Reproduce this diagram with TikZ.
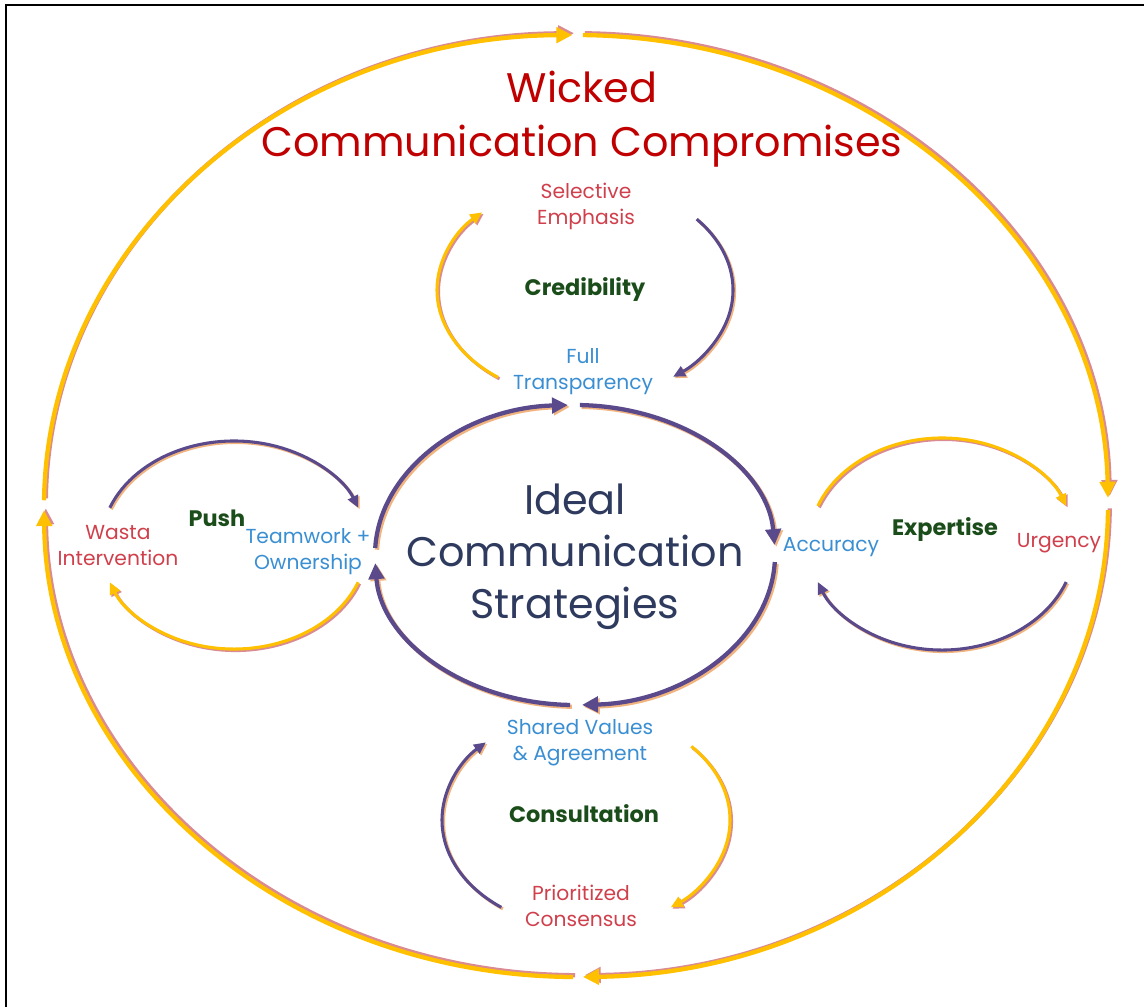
\documentclass[tikz,border=0pt]{standalone}
\usepackage{fontspec}
\setmainfont{Poppins}
\usetikzlibrary{arrows.meta}
\definecolor{ylw}{HTML}{FFC000}
\definecolor{pinksh}{HTML}{D98A92}
\definecolor{purp}{HTML}{5B4A8B}
\definecolor{orsh}{HTML}{F2B47E}
\definecolor{titlered}{HTML}{C00000}
\definecolor{lblred}{HTML}{D0404C}
\definecolor{lblblue}{HTML}{3A8FD3}
\definecolor{lblgreen}{HTML}{1B4D1B}
\definecolor{navy}{HTML}{2E3A5E}
\begin{document}
\begin{tikzpicture}[x=0.75pt,y=-0.75pt,
  bigtip/.style={-{Triangle[length=12pt,width=11.5pt]}},
  smalltip/.style={-{Triangle[length=9pt,width=8pt]}},
  outerarc/.style={draw=ylw, line width=3.2pt, bigtip,
    preaction={draw=pinksh, line width=3.2pt, bigtip, transform canvas={shift={(1.8,-1.8)}}}},
  innerarc/.style={draw=purp, line width=3.2pt, bigtip,
    preaction={draw=orsh, line width=3.2pt, bigtip, transform canvas={shift={(1.8,1.8)}}}},
  yarc/.style={draw=ylw, line width=2.3pt, smalltip,
    preaction={draw=pinksh, line width=2.3pt, smalltip, transform canvas={shift={(1.5,1.5)}}}},
  parc/.style={draw=purp, line width=2.3pt, smalltip,
    preaction={draw=orsh, line width=2.3pt, smalltip, transform canvas={shift={(1.5,1.5)}}}},
  lbl/.style={align=center, inner sep=0pt, font=\fontsize{15.2}{19.5}\selectfont},
  redlbl/.style={lbl, text=lblred},
  bluelbl/.style={lbl, text=lblblue},
  greenlbl/.style={align=center, inner sep=0pt, text=lblgreen, font=\fontsize{16.8}{20}\selectfont\bfseries},
  bigtext/.style={align=center, inner sep=0pt, font=\fontsize{31}{39}\selectfont}
]
\useasboundingbox (0,0) rectangle (1144,1007);
\fill[white] (0,0) rectangle (1144,1007);
% frame
\draw[line width=2pt] (6,1007) -- (6,5) -- (1144,5);

% centers
\coordinate (co) at (576,506);
\coordinate (ci) at (575,555);
\coordinate (ccred) at (585,290);
\coordinate (cpush) at (234,545);
\coordinate (cexp) at (942,544);
\coordinate (ccons) at (586,820);

% outer ellipse (clockwise)
\draw[outerarc] (co) ++(180.7:532 and 471) arc[start angle=180.7, end angle=269.6, x radius=532, y radius=471];
\draw[outerarc] (co) ++(270.75:532 and 471) arc[start angle=270.75, end angle=359.0, x radius=532, y radius=471];
\draw[outerarc] (co) ++(0.5:532 and 471) arc[start angle=0.5, end angle=89.25, x radius=532, y radius=471];
\draw[outerarc] (co) ++(90.3:532 and 471) arc[start angle=90.3, end angle=179.5, x radius=532, y radius=471];

% inner ellipse
\draw[innerarc] (ci) ++(182.7:200 and 150) arc[start angle=182.7, end angle=268, x radius=200, y radius=150];
\draw[innerarc] (ci) ++(271.4:200 and 150) arc[start angle=271.4, end angle=356.2, x radius=200, y radius=150];
\draw[innerarc] (ci) ++(2.7:200 and 150) arc[start angle=2.7, end angle=88, x radius=200, y radius=150];
\draw[innerarc] (ci) ++(91.4:200 and 150) arc[start angle=91.4, end angle=176.9, x radius=200, y radius=150];

% Credibility cycle
\draw[yarc] (ccred) ++(126:148 and 108) arc[start angle=126, end angle=226, x radius=148, y radius=108];
\draw[parc] (ccred) ++(319:148 and 108) arc[start angle=319, end angle=413.5, x radius=148, y radius=108];

% Push cycle
\draw[parc] (cpush) ++(201:133 and 104) arc[start angle=201, end angle=339, x radius=133, y radius=104];
\draw[yarc] (cpush) ++(21:133 and 104) arc[start angle=21, end angle=159, x radius=133, y radius=104];

% Expertise cycle
\draw[yarc] (cexp) ++(201:133 and 106) arc[start angle=201, end angle=339, x radius=133, y radius=106];
\draw[parc] (cexp) ++(21:133 and 106) arc[start angle=21, end angle=159, x radius=133, y radius=106];

% Consultation cycle
\draw[parc] (ccons) ++(126:144 and 108) arc[start angle=126, end angle=226, x radius=144, y radius=108];
\draw[yarc] (ccons) ++(317:144 and 108) arc[start angle=317, end angle=414, x radius=144, y radius=108];

% texts
\node[align=center, inner sep=0pt, text=titlered, font=\fontsize{31}{40.5}\selectfont] (title) at (582,119) {Wicked\\Communication Compromises};
\node[bigtext, text=navy] (ideal) at (575,557) {Ideal\\Communication\\Strategies};

\node[redlbl] (selective) at (586,206) {Selective\\Emphasis};
\node[greenlbl] (cred) at (585,289) {Credibility};
\node[bluelbl] (full) at (583,372) {Full\\Transparency};

\node[redlbl] (wasta) at (118,546) {Wasta\\Intervention};
\node[greenlbl] (push) at (217,518) {Push};
\node[bluelbl] (team) at (308,552) {Teamwork +\\Ownership};

\node[bluelbl] (accuracy) at (831,547) {Accuracy};
\node[greenlbl] (expertise) at (945,529) {Expertise};
\node[redlbl] (urgency) at (1059,543) {Urgency};

\node[bluelbl] (shared) at (580,743) {Shared Values\\\& Agreement};
\node[greenlbl] (consult) at (584,814) {Consultation};
\node[redlbl] (prior) at (581,906) {Prioritized\\Consensus};
\end{tikzpicture}
\end{document}
